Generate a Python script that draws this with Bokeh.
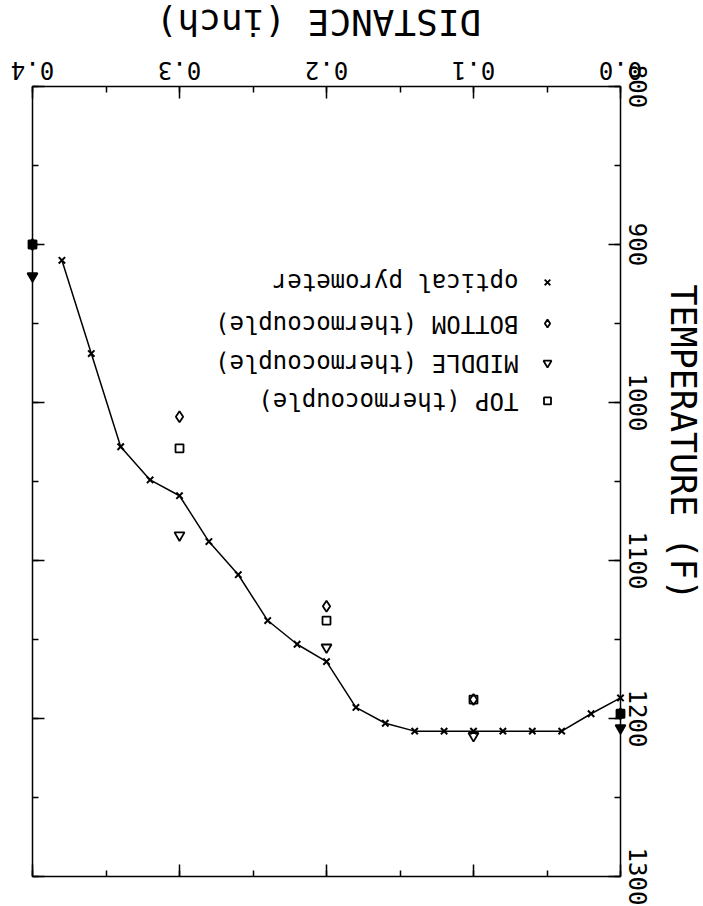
from math import pi
from bokeh.plotting import figure
from bokeh.models import (Range1d, LinearAxis, SingleIntervalTicker, PrintfTickFormatter,
                          Label, ColumnDataSource)
from bokeh.embed import file_html
from bokeh.resources import INLINE

# ---------------- data ----------------
pyro_dist = [0.38, 0.36, 0.34, 0.32, 0.30, 0.28, 0.26, 0.24, 0.22, 0.20,
             0.18, 0.16, 0.14, 0.12, 0.10, 0.08, 0.06, 0.04, 0.02, 0.00]
pyro_temp = [910, 969, 1028, 1049, 1059, 1088, 1109, 1138, 1153, 1164,
             1193, 1203, 1208, 1208, 1208, 1208, 1208, 1208, 1197, 1187]

tc_dist = [0.4, 0.3, 0.2, 0.1, 0.0]
top_temp = [900, 1029, 1138, 1188, 1197]
bottom_temp = [900, 1009, 1129, 1188, 1197]
middle_temp = [920, 1084, 1155, 1211, 1206]

dist_ticks = [0.0, 0.1, 0.2, 0.3, 0.4]
dist_tick_labels = ["0.0", "0.1", "0.2", "0.3", "0.4"]
dist_lim = (0.0, 0.4)
temp_lim = (800, 1300)
temp_tick_step = 100
dist_tick_step = 0.1

legend_labels = ["optical pyrometer", "BOTTOM (thermocouple)",
                 "MIDDLE (thermocouple)", "TOP (thermocouple)"]
legend_markers = ["x", "diamond", "inverted_triangle", "square"]
legend_rows = [924, 950, 975, 999]

x_title = "DISTANCE (inch)"
y_title = "TEMPERATURE (F)"

# ---------------- layout constants (pixels in the figure) ----------------
MONO = "DejaVu Sans Mono"
W, H = 703, 906
BOX_L, BOX_R, BOX_T, BOX_B = 32, 620, 86, 876
PXX = (BOX_R - BOX_L) / (dist_lim[1] - dist_lim[0])     # px per inch
PXY = (BOX_B - BOX_T) / (temp_lim[1] - temp_lim[0])     # px per degree


def dx(px):   # horizontal pixel offset (rightwards) -> data units (axis reversed)
    return -px / PXX


def dy(px):   # vertical pixel offset (downwards) -> data units
    return px / PXY


x_left = dist_lim[1] + BOX_L / PXX
x_right = dist_lim[0] - (W - BOX_R) / PXX
y_top = temp_lim[0] - BOX_T / PXY
y_bottom = temp_lim[1] + (H - BOX_B) / PXY

p = figure(width=W, height=H, min_border=0,
           x_range=Range1d(x_left, x_right), y_range=Range1d(y_bottom, y_top),
           x_axis_location=None, y_axis_location=None,
           output_backend="svg", toolbar_location=None, tools="")
p.grid.visible = False
p.outline_line_color = None
p.background_fill_color = "white"
p.border_fill_color = "white"


def frame_axis(side, loc, step, bounds):
    ax = LinearAxis(fixed_location=loc, bounds=bounds)
    ax.ticker = SingleIntervalTicker(interval=step, num_minor_ticks=2)
    ax.axis_line_color = "black"
    ax.axis_line_width = 1.5
    ax.major_tick_in = 12
    ax.major_tick_out = 0
    ax.minor_tick_in = 6
    ax.minor_tick_out = 0
    ax.major_tick_line_color = "black"
    ax.minor_tick_line_color = "black"
    ax.major_tick_line_width = 1.5
    ax.minor_tick_line_width = 1.5
    ax.major_label_text_color = None
    ax.major_label_text_font_size = "1px"
    p.add_layout(ax, side)
    return ax


frame_axis("above", temp_lim[0], dist_tick_step, dist_lim)
frame_axis("below", temp_lim[1], dist_tick_step, dist_lim)
frame_axis("left", dist_lim[1], temp_tick_step, temp_lim)
ya = frame_axis("right", dist_lim[0], temp_tick_step, temp_lim)
ya.formatter = PrintfTickFormatter(format="%d")
ya.major_label_orientation = "vertical"
ya.major_label_text_font = MONO
ya.major_label_text_font_size = "24px"
ya.major_label_text_color = "black"
ya.major_label_standoff = 8

# top tick labels, upside down as in the scanned original
for t, lab in zip(dist_ticks, dist_tick_labels):
    p.add_layout(Label(x=t, y=temp_lim[0] - dy(15.5), text=lab, angle=pi,
                       text_align="center", text_baseline="middle",
                       text_font=MONO, text_font_size="24px", text_color="black"))

# axis titles
p.add_layout(Label(x=(dist_lim[0] + dist_lim[1]) / 2 + dx(-8), y=temp_lim[0] - dy(64.5),
                   text=x_title, angle=pi, text_align="center", text_baseline="middle",
                   text_font=MONO, text_font_size="36px", text_color="black"))
p.add_layout(Label(x=dist_lim[0] + dx(62), y=temp_lim[0] + dy(356),
                   text=y_title, angle=-pi / 2, text_align="center", text_baseline="middle",
                   text_font=MONO, text_font_size="35px", text_color="black"))

# ---------------- data glyphs ----------------
p.line(pyro_dist, pyro_temp, line_color="black", line_width=1.5)
p.scatter(pyro_dist, pyro_temp, marker="x", size=9, line_color="black", line_width=2)


def edge_alpha(ds):
    return [1.0 if d in dist_lim else 0.0 for d in ds]


for temps, mk, sz in [(bottom_temp, "diamond", 11), (top_temp, "square", 8),
                      (middle_temp, "inverted_triangle", 10)]:
    src = ColumnDataSource(dict(x=tc_dist, y=temps, fa=edge_alpha(tc_dist)))
    p.scatter("x", "y", source=src, marker=mk, size=sz, line_color="black",
              line_width=1.8, fill_color="black", fill_alpha="fa")

# ---------------- legend (upside down) ----------------
leg_marker_x = dist_lim[0] + dx(-73)
leg_text_x = dist_lim[0] + dx(-102)
leg_sizes = [8, 8, 8, 7]
p.scatter(x=[leg_marker_x] * 4, y=legend_rows, marker=legend_markers, size=leg_sizes,
          line_color="black", line_width=1.8, fill_color=None)
for lab, yy in zip(legend_labels, legend_rows):
    p.add_layout(Label(x=leg_text_x, y=yy, text=lab, angle=pi, text_align="left",
                       text_baseline="middle", text_font=MONO, text_font_size="24px",
                       text_color="black"))

open("out.html", "w").write(file_html(p, INLINE))
